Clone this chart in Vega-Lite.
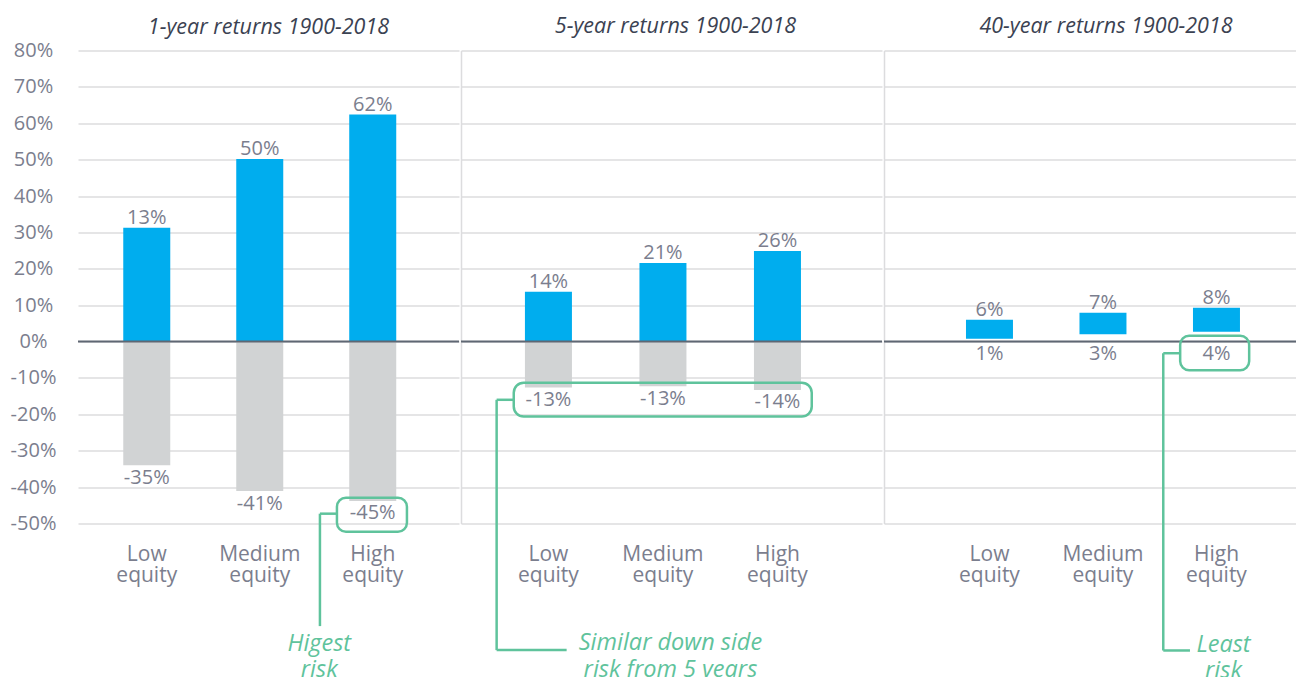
{
  "$schema": "https://vega.github.io/schema/vega-lite/v6.json",
  "padding": {"left": 10, "top": 15.5, "right": 0, "bottom": 0},
  "background": "white",
  "spacing": 0,
  "config": {
    "view": {"stroke": null},
    "font": "Open Sans",
    "axisX": {"title": null, "domain": false, "ticks": false, "grid": false, "labelAngle": 0, "labelFontSize": 21, "labelColor": "#7b7e8e", "labelPadding": 19.5, "labelLineHeight": 21, "labelFont": "Open Sans"},
    "axisY": {"title": null, "ticks": false, "tickSize": 0, "grid": true, "gridColor": "#dcdcde", "gridWidth": 1.5, "labelFontSize": 20, "labelColor": "#7b7e8e", "labelAlign": "center", "labelPadding": 45, "labelOverlap": false, "labelFont": "Open Sans", "domain": false},
    "title": {"fontStyle": "italic", "fontWeight": "normal", "fontSize": 21.5, "color": "#3b4252", "font": "Open Sans", "offset": 13.5}
  },
  "datasets": {
    "returns": [
      {"period": "1-year", "equity": "Low equity", "low": -34.0, "high": 31.3, "lowText": "-35%", "highText": "13%"},
      {"period": "1-year", "equity": "Medium equity", "low": -41.1, "high": 50.2, "lowText": "-41%", "highText": "50%"},
      {"period": "1-year", "equity": "High equity", "low": -43.8, "high": 62.4, "lowText": "-45%", "highText": "62%"},
      {"period": "5-year", "equity": "Low equity", "low": -12.6, "high": 13.7, "lowText": "-13%", "highText": "14%"},
      {"period": "5-year", "equity": "Medium equity", "low": -12.3, "high": 21.6, "lowText": "-13%", "highText": "21%"},
      {"period": "5-year", "equity": "High equity", "low": -13.3, "high": 24.9, "lowText": "-14%", "highText": "26%"},
      {"period": "40-year", "equity": "Low equity", "low": 0.8, "high": 6.0, "lowText": "1%", "highText": "6%"},
      {"period": "40-year", "equity": "Medium equity", "low": 2.0, "high": 7.9, "lowText": "3%", "highText": "7%"},
      {"period": "40-year", "equity": "High equity", "low": 2.7, "high": 9.3, "lowText": "4%", "highText": "8%"}
    ]
  },
  "hconcat": [
    {
      "width": 381,
      "height": 473,
      "title": {"text": "1-year returns 1900-2018", "dx": 0, "offset": 2.5},
      "data": {"name": "returns"},
      "transform": [{"filter": "datum.period === '1-year'"}],
      "layer": [
        {
          "mark": {"type": "bar", "color": "#00adee"},
          "encoding": {
            "x": {"field": "equity", "type": "nominal", "sort": ["Low equity", "Medium equity", "High equity"],
                  "scale": {"domain": ["Low equity", "Medium equity", "High equity"], "paddingInner": 0.584, "paddingOuter": 0.478, "align": 0.419},
                  "axis": {"labelExpr": "split(datum.label, ' ')"}},
            "y": {"field": "high", "type": "quantitative",
                  "scale": {"domain": [-50, 80], "nice": false, "zero": false},
                  "axis": {"values": [-50, -40, -30, -20, -10, 0, 10, 20, 30, 40, 50, 60, 70, 80], "tickCount": 20, "labelExpr": "datum.value + '%'", "labelOverlap": false}},
            "y2": {"datum": 0}
          }
        },
        {
          "transform": [{"filter": "datum.low < 0"}],
          "mark": {"type": "bar", "color": "#d1d3d4"},
          "encoding": {
            "x": {"field": "equity", "type": "nominal"},
            "y": {"field": "low", "type": "quantitative"},
            "y2": {"datum": 0}
          }
        },
        {
          "data": {"values": [{}]},
          "mark": {"type": "rule", "color": "#5f6773", "strokeWidth": 2},
          "encoding": {"y": {"datum": 0, "type": "quantitative"}}
        },
        {
          "mark": {"type": "text", "fontSize": 20, "color": "#7b7e8e", "baseline": "alphabetic", "dy": -4},
          "encoding": {
            "x": {"field": "equity", "type": "nominal"},
            "y": {"field": "high", "type": "quantitative"},
            "text": {"field": "highText"}
          }
        },
        {
          "mark": {"type": "text", "fontSize": 20, "color": "#7b7e8e", "baseline": "alphabetic", "dy": 18.5},
          "encoding": {
            "x": {"field": "equity", "type": "nominal"},
            "y": {"field": "low", "type": "quantitative"},
            "text": {"field": "lowText"}
          }
        },
        {
          "data": {"values": [{}]},
          "mark": {"type": "rect", "fillOpacity": 0, "stroke": "#5fc39c", "strokeWidth": 2.5, "cornerRadius": 9, "width": 70, "xOffset": -0.8},
          "encoding": {
            "x": {"datum": "High equity", "type": "nominal"},
            "y": {"datum": -42.9, "type": "quantitative"},
            "y2": {"datum": -52.3}
          }
        },
        {
          "data": {"values": [{}]},
          "mark": {"type": "rule", "color": "#5fc39c", "strokeWidth": 2.5, "xOffset": -52.8, "x2Offset": -35.8},
          "encoding": {
            "x": {"datum": "High equity", "type": "nominal"},
            "x2": {"datum": "High equity"},
            "y": {"datum": -47.3, "type": "quantitative"}
          }
        },
        {
          "data": {"values": [{}]},
          "mark": {"type": "rule", "color": "#5fc39c", "strokeWidth": 2.5, "xOffset": -52.8},
          "encoding": {
            "x": {"datum": "High equity", "type": "nominal"},
            "y": {"datum": -47.3, "type": "quantitative"},
            "y2": {"datum": -78.2}
          }
        },
        {
          "data": {"values": [{"note": "Higest\nrisk"}]},
          "mark": {"type": "text", "fontSize": 23.5, "fontStyle": "italic", "color": "#5fc39c", "baseline": "alphabetic", "lineBreak": "\n", "lineHeight": 26.5, "dx": -53.5},
          "encoding": {
            "x": {"datum": "High equity", "type": "nominal"},
            "y": {"datum": -85.0, "type": "quantitative"},
            "text": {"field": "note"}
          }
        }
      ]
    },
    {
      "width": 421,
      "height": 473,
      "title": {"text": "5-year returns 1900-2018", "dx": 4},
      "data": {"name": "returns"},
      "transform": [{"filter": "datum.period === '5-year'"}],
      "layer": [
        {
          "mark": {"type": "bar", "color": "#00adee"},
          "encoding": {
            "x": {"field": "equity", "type": "nominal", "sort": ["Low equity", "Medium equity", "High equity"],
                  "scale": {"domain": ["Low equity", "Medium equity", "High equity"], "paddingInner": 0.5895, "paddingOuter": 0.633, "align": 0.441},
                  "axis": {"labelExpr": "split(datum.label, ' ')"}},
            "y": {"field": "high", "type": "quantitative",
                  "scale": {"domain": [-50, 80], "nice": false, "zero": false},
                  "axis": {"values": [-50, -40, -30, -20, -10, 0, 10, 20, 30, 40, 50, 60, 70, 80], "tickCount": 20, "labels": false, "domain": true, "domainColor": "#dcdcde", "domainWidth": 1.5}},
            "y2": {"datum": 0}
          }
        },
        {
          "transform": [{"filter": "datum.low < 0"}],
          "mark": {"type": "bar", "color": "#d1d3d4"},
          "encoding": {
            "x": {"field": "equity", "type": "nominal"},
            "y": {"field": "low", "type": "quantitative"},
            "y2": {"datum": 0}
          }
        },
        {
          "data": {"values": [{}]},
          "mark": {"type": "rule", "color": "#5f6773", "strokeWidth": 2},
          "encoding": {"y": {"datum": 0, "type": "quantitative"}}
        },
        {
          "mark": {"type": "text", "fontSize": 20, "color": "#7b7e8e", "baseline": "alphabetic", "dy": -4},
          "encoding": {
            "x": {"field": "equity", "type": "nominal"},
            "y": {"field": "high", "type": "quantitative"},
            "text": {"field": "highText"}
          }
        },
        {
          "mark": {"type": "text", "fontSize": 20, "color": "#7b7e8e", "baseline": "alphabetic", "dy": 18.5},
          "encoding": {
            "x": {"field": "equity", "type": "nominal"},
            "y": {"field": "low", "type": "quantitative"},
            "text": {"field": "lowText"}
          }
        },
        {
          "data": {"values": [{}]},
          "mark": {"type": "rect", "fillOpacity": 0, "stroke": "#5fc39c", "strokeWidth": 2.5, "cornerRadius": 10, "width": 298, "xOffset": -0.2},
          "encoding": {
            "x": {"datum": "Medium equity", "type": "nominal"},
            "y": {"datum": -11.3, "type": "quantitative"},
            "y2": {"datum": -20.6}
          }
        },
        {
          "data": {"values": [{}]},
          "mark": {"type": "rule", "color": "#5fc39c", "strokeWidth": 2.5, "xOffset": -51.8, "x2Offset": -34.2},
          "encoding": {
            "x": {"datum": "Low equity", "type": "nominal"},
            "x2": {"datum": "Low equity"},
            "y": {"datum": -16.0, "type": "quantitative"}
          }
        },
        {
          "data": {"values": [{}]},
          "mark": {"type": "rule", "color": "#5fc39c", "strokeWidth": 2.5, "xOffset": -51.8},
          "encoding": {
            "x": {"datum": "Low equity", "type": "nominal"},
            "y": {"datum": -16.0, "type": "quantitative"},
            "y2": {"datum": -84.8}
          }
        },
        {
          "data": {"values": [{}]},
          "mark": {"type": "rule", "color": "#5fc39c", "strokeWidth": 2.5, "xOffset": -51.8, "x2Offset": 18.2},
          "encoding": {
            "x": {"datum": "Low equity", "type": "nominal"},
            "x2": {"datum": "Low equity"},
            "y": {"datum": -84.8, "type": "quantitative"}
          }
        },
        {
          "data": {"values": [{"note": "Similar down side\nrisk from 5 years"}]},
          "mark": {"type": "text", "fontSize": 23.5, "fontStyle": "italic", "color": "#5fc39c", "baseline": "alphabetic", "lineBreak": "\n", "lineHeight": 26.5, "dx": 7.5},
          "encoding": {
            "x": {"datum": "Medium equity", "type": "nominal"},
            "y": {"datum": -84.8, "type": "quantitative"},
            "text": {"field": "note"}
          }
        }
      ]
    },
    {
      "width": 412,
      "height": 473,
      "title": {"text": "40-year returns 1900-2018", "dx": 16},
      "data": {"name": "returns"},
      "transform": [{"filter": "datum.period === '40-year'"}],
      "layer": [
        {
          "mark": {"type": "bar", "color": "#00adee"},
          "encoding": {
            "x": {"field": "equity", "type": "nominal", "sort": ["Low equity", "Medium equity", "High equity"],
                  "scale": {"domain": ["Low equity", "Medium equity", "High equity"], "paddingInner": 0.586, "paddingOuter": 0.608, "align": 0.594},
                  "axis": {"labelExpr": "split(datum.label, ' ')"}},
            "y": {"field": "high", "type": "quantitative",
                  "scale": {"domain": [-50, 80], "nice": false, "zero": false},
                  "axis": {"values": [-50, -40, -30, -20, -10, 0, 10, 20, 30, 40, 50, 60, 70, 80], "tickCount": 20, "labels": false, "domain": true, "domainColor": "#dcdcde", "domainWidth": 1.5}},
            "y2": {"field": "low"}
          }
        },
        {
          "data": {"values": [{}]},
          "mark": {"type": "rule", "color": "#5f6773", "strokeWidth": 2},
          "encoding": {"y": {"datum": 0, "type": "quantitative"}}
        },
        {
          "mark": {"type": "text", "fontSize": 20, "color": "#7b7e8e", "baseline": "alphabetic", "dy": -4},
          "encoding": {
            "x": {"field": "equity", "type": "nominal"},
            "y": {"field": "high", "type": "quantitative"},
            "text": {"field": "highText"}
          }
        },
        {
          "mark": {"type": "text", "fontSize": 20, "color": "#7b7e8e", "baseline": "alphabetic", "dy": 18.5},
          "encoding": {
            "x": {"field": "equity", "type": "nominal"},
            "y": {"datum": 0, "type": "quantitative"},
            "text": {"field": "lowText"}
          }
        },
        {
          "data": {"values": [{}]},
          "mark": {"type": "rect", "fillOpacity": 0, "stroke": "#5fc39c", "strokeWidth": 2.5, "cornerRadius": 9, "width": 69, "xOffset": -1.8},
          "encoding": {
            "x": {"datum": "High equity", "type": "nominal"},
            "y": {"datum": 1.6, "type": "quantitative"},
            "y2": {"datum": -7.9}
          }
        },
        {
          "data": {"values": [{}]},
          "mark": {"type": "rule", "color": "#5fc39c", "strokeWidth": 2.5, "xOffset": -53.2, "x2Offset": -36.5},
          "encoding": {
            "x": {"datum": "High equity", "type": "nominal"},
            "x2": {"datum": "High equity"},
            "y": {"datum": -3.2, "type": "quantitative"}
          }
        },
        {
          "data": {"values": [{}]},
          "mark": {"type": "rule", "color": "#5fc39c", "strokeWidth": 2.5, "xOffset": -53.2},
          "encoding": {
            "x": {"datum": "High equity", "type": "nominal"},
            "y": {"datum": -3.2, "type": "quantitative"},
            "y2": {"datum": -84.9}
          }
        },
        {
          "data": {"values": [{}]},
          "mark": {"type": "rule", "color": "#5fc39c", "strokeWidth": 2.5, "xOffset": -53.2, "x2Offset": -26.5},
          "encoding": {
            "x": {"datum": "High equity", "type": "nominal"},
            "x2": {"datum": "High equity"},
            "y": {"datum": -84.9, "type": "quantitative"}
          }
        },
        {
          "data": {"values": [{"note": "Least\nrisk"}]},
          "mark": {"type": "text", "fontSize": 23.5, "fontStyle": "italic", "color": "#5fc39c", "baseline": "alphabetic", "lineBreak": "\n", "lineHeight": 26.5, "dx": 7},
          "encoding": {
            "x": {"datum": "High equity", "type": "nominal"},
            "y": {"datum": -85.2, "type": "quantitative"},
            "text": {"field": "note"}
          }
        }
      ]
    }
  ]
}
